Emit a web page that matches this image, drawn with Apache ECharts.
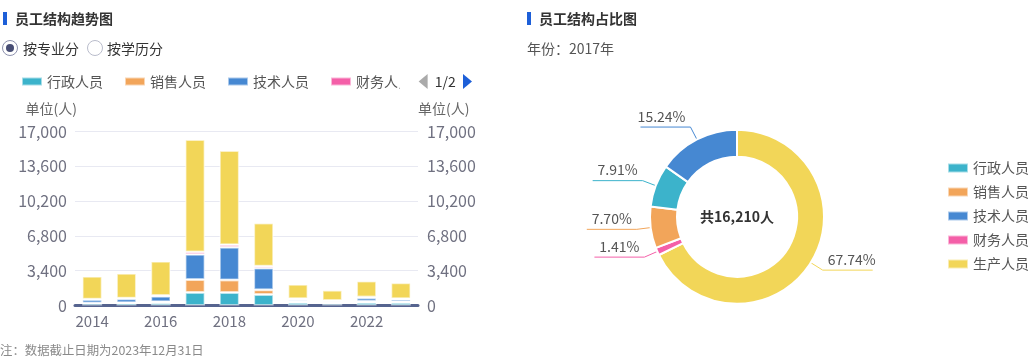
<!DOCTYPE html>
<html><head><meta charset="utf-8">
<script src="https://cdn.jsdelivr.net/npm/echarts@6/dist/echarts.min.js"></script>
<style>
body{margin:0;background:#fff;font-family:"Noto Sans CJK SC","Noto Sans",sans-serif;}
#c{position:absolute;left:0;top:0;width:1032px;height:364px;}
.hd{position:absolute;font-size:14px;font-weight:bold;color:#333;line-height:16px;}
.mk{position:absolute;width:4px;height:13px;background:#1d5fd8;}
.txt{position:absolute;font-size:14px;color:#444;line-height:16px;white-space:nowrap;}
.rb{position:absolute;width:14px;height:14px;border-radius:50%;border:1px solid #b9bccb;box-sizing:content-box;}
.rb.on{border-color:#8d91ad;}
.rb.on::after{content:"";position:absolute;left:3px;top:3px;width:8px;height:8px;border-radius:50%;background:#474d74;}
.note{position:absolute;left:0;top:342px;font-size:12.4px;color:#8a8a8a;line-height:16px;white-space:nowrap;}
</style></head>
<body>
<div id="c"></div>
<div class="mk" style="left:3px;top:12px"></div>
<div class="hd" style="left:15px;top:10px">员工结构趋势图</div>
<div class="rb on" style="left:2px;top:40px"></div>
<div class="txt" style="left:23px;top:40px;color:#333">按专业分</div>
<div class="rb" style="left:87px;top:40px"></div>
<div class="txt" style="left:107px;top:40px;color:#333">按学历分</div>
<div class="mk" style="left:527px;top:12px"></div>
<div class="hd" style="left:539px;top:10px">员工结构占比图</div>
<div class="txt" style="left:527px;top:40px;color:#555">年份：2017年</div>
<div class="note">注：数据截止日期为2023年12月31日</div>
<script>
const years = ['2014','2015','2016','2017','2018','2019','2020','2021','2022','2023'];
const admin      = [200, 220, 250, 1282, 1270, 1080, 300, 180, 300, 290];
const sales      = [40, 60, 120, 1248, 1230, 450, 120, 90, 110, 100];
const tech       = [340, 380, 540, 2470, 3200, 2130, 160, 150, 350, 220];
const finance    = [40, 60, 60, 229, 230, 180, 90, 60, 60, 60];
const production = [2230, 2420, 3355, 10981, 9220, 4220, 1395, 1020, 1570, 1550];
const seriesNames = ['行政人员','销售人员','技术人员','财务人员','生产人员'];
const seriesValues = [admin, sales, tech, finance, production];
const colors = ['#3cb3cb','#f2a55a','#4688d2','#f45fa8','#f2d658'];
const pieYear = '2017';
const pieOrder = ['生产人员','财务人员','销售人员','行政人员','技术人员'];

const FONT = '"Noto Sans CJK SC","Noto Sans",sans-serif';
const yi = years.indexOf(pieYear);
const pieData = pieOrder.map(n => {
  const k = seriesNames.indexOf(n);
  return { name: n, value: seriesValues[k][yi], itemStyle: { color: colors[k] } };
});
const total = pieData.reduce((s, d) => s + d.value, 0);

const chart = echarts.init(document.getElementById('c'), null, {renderer:'canvas'});
const axisLabelColor = '#6f7080';
chart.setOption({
  animation: false,
  textStyle: { fontFamily: FONT },
  color: colors,
  legend: [{
    type: 'scroll', left: 21, top: 74, width: 451, padding: 0,
    itemWidth: 20, itemHeight: 8, itemGap: 21, icon: 'rect',
    data: seriesNames,
    textStyle: { color: '#555', fontSize: 14, fontFamily: FONT },
    pageButtonItemGap: 1, pageButtonGap: 19,
    pageIconColor: '#1d5fd8', pageIconInactiveColor: '#aaa', pageIconSize: 15,
    pageTextStyle: { color: '#333', fontSize: 14, fontFamily: FONT }
  }, {
    orient: 'vertical', left: 947, top: 161, padding: 0,
    itemWidth: 20, itemHeight: 9, itemGap: 10, icon: 'rect',
    data: seriesNames,
    textStyle: { color: '#555', fontSize: 14, fontFamily: FONT }
  }],
  grid: { left: 75, right: 614, top: 131.5, bottom: 58.5 },
  xAxis: {
    type: 'category', data: years,
    axisLine: { lineStyle: { color: '#56648f', width: 3 } },
    axisTick: { alignWithLabel: true, interval: 1, length: 5, lineStyle: { color: '#56648f' } },
    axisLabel: { interval: 1, color: axisLabelColor, fontSize: 15, margin: 8 }
  },
  yAxis: [{
    type: 'value', min: 0, max: 17000, interval: 3400,
    name: '单位(人)', nameGap: 16,
    nameTextStyle: { align: 'right', color: '#666', fontSize: 14, padding: [0, -2, 0, 0] },
    axisLabel: { color: axisLabelColor, fontSize: 16, margin: 8 },
    axisLine: { show: false }, axisTick: { show: false },
    splitLine: { lineStyle: { color: '#e8e9f2' } }
  }, {
    type: 'value', position: 'right', min: 0, max: 17000, interval: 3400,
    name: '单位(人)', nameGap: 16,
    nameTextStyle: { align: 'left', color: '#666', fontSize: 14 },
    axisLabel: { color: axisLabelColor, fontSize: 16, margin: 9 },
    axisLine: { show: false }, axisTick: { show: false },
    splitLine: { show: false }
  }],
  series: seriesNames.map((n, k) => ({
    name: n, type: 'bar', stack: 'total', barWidth: 20,
    data: seriesValues[k],
    itemStyle: { color: colors[k], borderColor: 'rgba(255,255,255,0.55)', borderWidth: 1.5 }
  })).concat([{
    type: 'pie', center: [737, 216.7], radius: [60, 87],
    startAngle: 90, clockwise: true,
    data: pieData,
    itemStyle: { borderColor: '#fff', borderWidth: 2 },
    label: { formatter: p => p.percent.toFixed(2) + '%', color: '#555', fontSize: 14, padding: [0, -50, 0, -50] },
    labelLine: { length: 14, length2: 50, lineStyle: { width: 1 } },
    labelLayout: p => ({ dy: -10.5, labelLinePoints: p.labelLinePoints })
  }]),
  graphic: [{
    type: 'text', x: 737, y: 216.7,
    style: { text: '共' + echarts.format.addCommas(total) + '人', align: 'center', verticalAlign: 'middle',
      font: 'bold 14px ' + FONT, fill: '#333' }
  }]
});
</script>
</body></html>
